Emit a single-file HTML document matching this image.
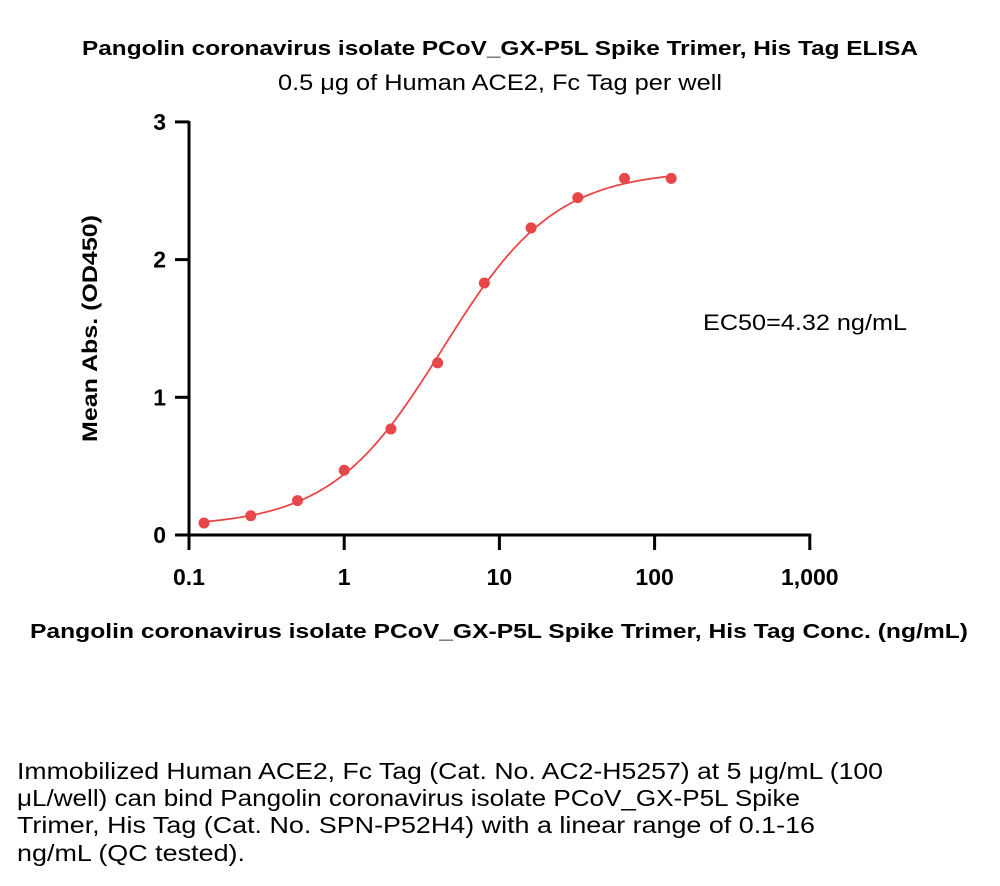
<!DOCTYPE html>
<html><head><meta charset="utf-8"><style>
body{margin:0;background:#fff;width:1000px;height:886px;overflow:hidden;font-family:"Liberation Sans",sans-serif}
</style></head><body>
<svg id="chart" width="1000" height="886" style="position:absolute;left:0;top:0" font-family="Liberation Sans, sans-serif">
<text x="82" y="55" font-size="20" font-weight="bold" textLength="836" lengthAdjust="spacingAndGlyphs">Pangolin coronavirus isolate PCoV_GX-P5L Spike Trimer, His Tag ELISA</text>
<text x="278" y="90" font-size="22" textLength="444" lengthAdjust="spacingAndGlyphs">0.5 μg of Human ACE2, Fc Tag per well</text>
<text transform="translate(97,442) rotate(-90)" font-size="21" font-weight="bold" textLength="227" lengthAdjust="spacingAndGlyphs">Mean Abs. (OD450)</text>
<text x="30" y="638" font-size="20.5" font-weight="bold" textLength="938" lengthAdjust="spacingAndGlyphs">Pangolin coronavirus isolate PCoV_GX-P5L Spike Trimer, His Tag Conc. (ng/mL)</text>
<text x="703" y="330" font-size="22" textLength="204" lengthAdjust="spacingAndGlyphs">EC50=4.32 ng/mL</text>
<g font-size="23">
<text x="17" y="779" textLength="866" lengthAdjust="spacingAndGlyphs">Immobilized Human ACE2, Fc Tag (Cat. No. AC2-H5257) at 5 μg/mL (100</text>
<text x="17" y="806" textLength="783" lengthAdjust="spacingAndGlyphs">μL/well) can bind Pangolin coronavirus isolate PCoV_GX-P5L Spike</text>
<text x="17" y="833" textLength="798" lengthAdjust="spacingAndGlyphs">Trimer, His Tag (Cat. No. SPN-P52H4) with a linear range of 0.1-16</text>
<text x="17" y="861" textLength="228" lengthAdjust="spacingAndGlyphs">ng/mL (QC tested).</text>
</g>
<g id="axes"></g><g id="marks"></g>
</svg>
<script>
const concentrations=[0.125,0.25,0.5,1,2,4,8,16,32,64,128];
const absorbance=[0.087,0.14,0.25,0.47,0.77,1.25,1.83,2.23,2.45,2.59,2.59];
const xTicks=[0.1,1,10,100,1000];
const xTickLabels=["0.1","1","10","100","1,000"];
const yTicks=[0,1,2,3];
const fitParams=[0.06,2.65,4.32,1.2]; // bottom, top, EC50, hill
const NS="http://www.w3.org/2000/svg";
const X=v=>189+(Math.log10(v)+1)*155.2;
const Y=v=>535-v*137.7;
function mk(t,a,p){const e=document.createElementNS(NS,t);for(const k in a)e.setAttribute(k,a[k]);p.appendChild(e);return e;}
const ax=document.getElementById('axes'),mg=document.getElementById('marks');
let e=mk('line',{x1:189,y1:Y(3)-1,x2:189,y2:536.5,stroke:'#000','stroke-width':3},ax);

e=mk('line',{x1:187.5,y1:535,x2:X(1000)+1.5,y2:535,stroke:'#000','stroke-width':3},ax);

yTicks.forEach(v=>{mk('line',{x1:175,x2:189,y1:Y(v),y2:Y(v),stroke:'#000','stroke-width':3},ax);
 const t=mk('text',{x:166,y:Y(v)+8,'text-anchor':'end','font-size':23,'font-weight':'bold'},ax);t.textContent=v;
 });
xTicks.forEach((v,i)=>{mk('line',{x1:X(v),x2:X(v),y1:535,y2:550,stroke:'#000','stroke-width':3},ax);
 const t=mk('text',{x:X(v),y:585,'text-anchor':'middle','font-size':23,'font-weight':'bold'},ax);t.textContent=xTickLabels[i];
 });
const [b,tp,ec,h]=fitParams;let d='';
const lo=Math.log10(concentrations[0]),hi=Math.log10(concentrations[concentrations.length-1]);
for(let i=0;i<=200;i++){const c=Math.pow(10,lo+(hi-lo)*i/200);const y=b+(tp-b)/(1+Math.pow(ec/c,h));d+=(i?'L':'M')+X(c).toFixed(1)+','+Y(y).toFixed(1);}
e=mk('path',{d:d,fill:'none',stroke:'#e8474a','stroke-width':1.8},mg);

concentrations.forEach((c,i)=>{const p=mk('circle',{cx:X(c),cy:Y(absorbance[i]),r:5.5,fill:'#e8474a'},mg);
 });
</script>
</body></html>
